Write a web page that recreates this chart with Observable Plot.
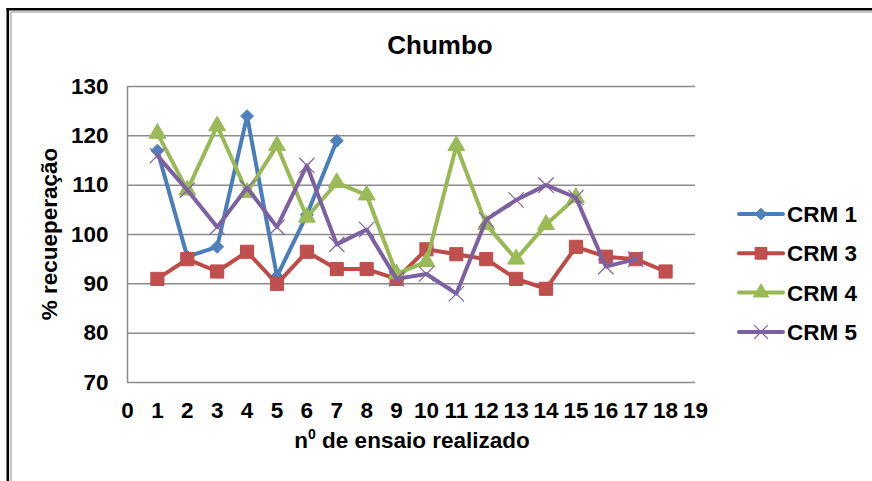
<!DOCTYPE html>
<html>
<head>
<meta charset="utf-8">
<script src="https://cdn.jsdelivr.net/npm/d3@7"></script>
<script src="https://cdn.jsdelivr.net/npm/@observablehq/plot@0.6"></script>
<style>
  html, body { margin: 0; padding: 0; background: #fff; }
  #chart { width: 872px; height: 481px; }
</style>
</head>
<body>
<div id="chart"></div>
<script>
// ---- data ----
const title = "Chumbo";
const yLabel = "% recueperação";
const xLabelMain = "n";
const xLabelSup = "0";
const xLabelRest = " de ensaio realizado";
const seriesNames = ["CRM 1", "CRM 3", "CRM 4", "CRM 5"];
const crm1 = [117, 95.5, 97.5, 124, 91.5, 104, 119];
const crm3 = [91, 95, 92.5, 96.5, 90, 96.5, 93, 93, 91, 97, 96, 95, 91, 89, 97.5, 95.5, 95, 92.5];
const crm4 = [120.5, 109, 122, 108.5, 118, 103.5, 110.5, 108, 92, 94.5, 118, 102, 95, 102, 107.5];
const crm5 = [116, 109, 101.5, 109.5, 101.5, 114, 98, 101, 91, 92, 88, 103, 107, 110, 107.5, 93.5, 95];
const xTicks = [0,1,2,3,4,5,6,7,8,9,10,11,12,13,14,15,16,17,18,19];
const yTicks = [70, 80, 90, 100, 110, 120, 130];

// ---- styles ----
const seriesValues = [crm1, crm3, crm4, crm5];
const styles = [
  {line: "#4A7EBB", fill: "#4F81BD", stroke: "#4A7EBB", symbol: "diamond2", r: 5.8, sw: 1},
  {line: "#BE4B48", fill: "#C0504D", stroke: "#BE4B48", symbol: "square", r: 7.4, sw: 1},
  {line: "#98B954", fill: "#9BBB59", stroke: "#98B954", symbol: "triangle", r: 6.3, sw: 1},
  {line: "#7D60A0", fill: "none", stroke: "#8064A2", symbol: "times", r: 7, sw: 1.2}
];

const rows = [];
seriesNames.forEach((name, s) => {
  seriesValues[s].forEach((v, i) => rows.push({series: name, x: i + 1, y: v}));
});

const font = "'Liberation Sans', Arial, Helvetica, sans-serif";
const grid = "#8c8c8c";

const marks = [
  Plot.ruleY(yTicks, {stroke: grid, strokeWidth: 1.5}),
  Plot.ruleX([0], {stroke: grid, strokeWidth: 1.5})
];
seriesNames.forEach((name, s) => {
  const st = styles[s];
  const d = rows.filter(r => r.series === name);
  marks.push(Plot.line(d, {x: "x", y: "y", stroke: st.line, strokeWidth: 4, strokeLinejoin: "round", strokeLinecap: "round"}));
  marks.push(Plot.dot(d, {x: "x", y: "y", symbol: st.symbol, r: st.r, fill: st.fill, stroke: st.stroke, strokeWidth: st.sw}));
});

const svg = Plot.plot({
  width: 872,
  height: 481,
  marginLeft: 127,
  marginRight: 177,
  marginTop: 86,
  marginBottom: 99,
  style: {fontFamily: font, fontSize: "22.5px", fontWeight: "bold", color: "#000", background: "#fff", overflow: "visible"},
  x: {domain: [0, 19], ticks: xTicks, tickSize: 0, tickPadding: 20, label: null, tickFormat: d => String(d)},
  y: {domain: [70, 130], ticks: yTicks, tickSize: 0, tickPadding: 19, label: null, tickFormat: d => String(d)},
  marks
});
document.getElementById("chart").appendChild(svg);

const g = d3.select(svg).append("g").attr("font-family", font).attr("font-weight", "bold").attr("fill", "#000").attr("text-anchor", "start");

// frame
g.append("line").attr("x1", 10.5).attr("y1", 12).attr("x2", 872).attr("y2", 12).attr("stroke", "#b4b4b4").attr("stroke-width", 1.5);
g.append("line").attr("x1", 11).attr("y1", 12).attr("x2", 11).attr("y2", 481).attr("stroke", "#b4b4b4").attr("stroke-width", 1.5);
g.append("line").attr("x1", 6.5).attr("y1", 9.3).attr("x2", 872).attr("y2", 9.3).attr("stroke", "#000").attr("stroke-width", 2.6);
g.append("line").attr("x1", 7.8).attr("y1", 8).attr("x2", 7.8).attr("y2", 481).attr("stroke", "#000").attr("stroke-width", 2.6);

// title
g.append("text").attr("x", 440).attr("y", 54).attr("text-anchor", "middle").attr("font-size", 26).text(title);

// y label
g.append("text").attr("transform", "translate(57,234) rotate(-90)").attr("text-anchor", "middle").attr("font-size", 22.5).text(yLabel);

// x label
const xl = g.append("text").attr("x", 412).attr("y", 448).attr("text-anchor", "middle").attr("font-size", 22.5);
xl.append("tspan").text(xLabelMain);
xl.append("tspan").attr("dy", -9).attr("font-size", 14).text(xLabelSup);
xl.append("tspan").attr("dy", 9).text(xLabelRest);

// legend
const symbolMap = {diamond2: d3.symbolDiamond2, square: d3.symbolSquare, triangle: d3.symbolTriangle, times: d3.symbolTimes};
seriesNames.forEach((name, s) => {
  const st = styles[s];
  const y = 214 + s * 39.3;
  g.append("line").attr("x1", 739).attr("x2", 783).attr("y1", y).attr("y2", y).attr("stroke", st.line).attr("stroke-width", 4).attr("stroke-linecap", "round");
  g.append("path").attr("transform", `translate(761,${y})`)
    .attr("d", d3.symbol(symbolMap[st.symbol], Math.PI * st.r * st.r * 0.8)())
    .attr("fill", st.fill).attr("stroke", st.stroke).attr("stroke-width", st.sw);
  g.append("text").attr("x", 787).attr("y", y + 8).attr("font-size", 22.5).text(name);
});
</script>
</body>
</html>
